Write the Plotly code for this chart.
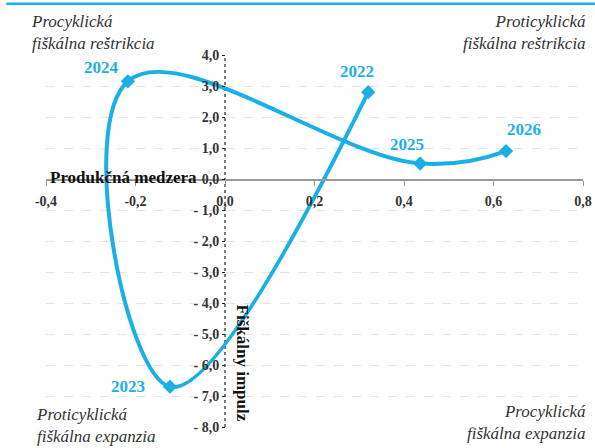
import plotly.graph_objects as go

years = ["2022", "2023", "2024", "2025", "2026"]
output_gap = [0.32, -0.123, -0.217, 0.436, 0.628]
fiscal_impulse = [2.8, -6.7, 3.15, 0.5, 0.9]
label_dx = [-11, -42, -26, -13, 18]
label_dy = [21, 0, 14, 19, 22]

x_ticks = [-0.4, -0.2, 0.0, 0.2, 0.4, 0.6, 0.8]
x_ticktext = ["-0,4", "-0,2", "0,0", "0,2", "0,4", "0,6", "0,8"]
y_ticks = [4, 3, 2, 1, 0, -1, -2, -3, -4, -5, -6, -7, -8]
y_ticktext = ["4,0", "3,0", "2,0", "1,0", "0,0", "- 1,0", "- 2,0", "- 3,0",
              "- 4,0", "- 5,0", "- 6,0", "- 7,0", "- 8,0"]

BLUE = "#1AB0E6"
SERIF = "Liberation Serif"
X_RANGE = [-0.4, 0.8]
Y_RANGE = [-8, 4]

fig = go.Figure()
fig.add_trace(go.Scatter(
    x=output_gap, y=fiscal_impulse, mode="lines+markers",
    line=dict(color=BLUE, width=4, shape="spline", smoothing=1.2),
    marker=dict(symbol="diamond", size=11, color=BLUE),
    hoverinfo="skip", showlegend=False,
))

# dotted y axis line at x=0
fig.add_shape(type="line", xref="x", yref="y", x0=0, x1=0, y0=Y_RANGE[0], y1=Y_RANGE[1],
              line=dict(color="#222", width=1.2, dash="dot"), layer="below")
# top blue rule
fig.add_shape(type="line", xref="paper", yref="paper", x0=-0.074, x1=1.03,
              y0=1.138, y1=1.138, line=dict(color=BLUE, width=2.5))

ann = []
for yr, xv, yv, dx, dy in zip(years, output_gap, fiscal_impulse, label_dx, label_dy):
    ann.append(dict(x=xv, y=yv, xref="x", yref="y", text=yr, showarrow=False,
                    xshift=dx, yshift=dy,
                    font=dict(family=SERIF, size=17, color=BLUE, weight="bold")))

corner_font = dict(family=SERIF, size=17, color="#333", style="italic")
ann += [
    dict(xref="paper", yref="paper", x=-0.032, y=1.122, xanchor="left", yanchor="top",
         text="Procyklická<br>fiškálna reštrikcia", showarrow=False, align="left", font=corner_font),
    dict(xref="paper", yref="paper", x=1.01, y=1.122, xanchor="right", yanchor="top",
         text="Proticyklická<br>fiškálna reštrikcia", showarrow=False, align="right", font=corner_font),
    dict(xref="paper", yref="paper", x=-0.022, y=-0.056, xanchor="left", yanchor="bottom",
         text="Proticyklická<br>fiškálna expanzia", showarrow=False, align="left", font=corner_font),
    dict(xref="paper", yref="paper", x=1.01, y=-0.048, xanchor="right", yanchor="bottom",
         text="Procyklická<br>fiškálna expanzia", showarrow=False, align="right", font=corner_font),
    dict(xref="x", yref="y", x=-0.395, y=0, xanchor="left", yanchor="middle", yshift=2,
         text="Produkčná medzera", showarrow=False,
         font=dict(family=SERIF, size=17, color="#111", weight="bold")),
    dict(xref="x", yref="y", x=0.04, y=-5.95, xanchor="center", yanchor="middle",
         text="Fiškálny impulz", showarrow=False, textangle=90,
         font=dict(family=SERIF, size=17, color="#111", weight="bold")),
]

fig.update_layout(
    width=595, height=448,
    margin=dict(l=46, r=12, t=55, b=21),
    paper_bgcolor="white", plot_bgcolor="white",
    annotations=ann,
    xaxis=dict(range=X_RANGE, tickvals=x_ticks, ticktext=x_ticktext, automargin=False,
               anchor="free", position=2 / 3, showline=True, linecolor="#999", linewidth=1.5,
               ticks="outside", ticklen=5, tickcolor="#999", showgrid=False, zeroline=False,
               tickfont=dict(family=SERIF, size=14, color="#333", weight="bold"),
               ticklabelstandoff=4),
    yaxis=dict(range=Y_RANGE, tickvals=y_ticks, ticktext=y_ticktext, automargin=False,
               anchor="free", position=1 / 3, showline=False,
               ticks="outside", ticklen=3, tickcolor="#222", zeroline=False,
               showgrid=True, gridcolor="#e3e3e3", griddash="dash", gridwidth=1,
               tickfont=dict(family=SERIF, size=14, color="#333", weight="bold")),
)

fig.write_html("out.html", config={"displayModeBar": False, "staticPlot": True},
               post_script="document.body.style.margin='0';document.body.style.overflow='hidden';")
